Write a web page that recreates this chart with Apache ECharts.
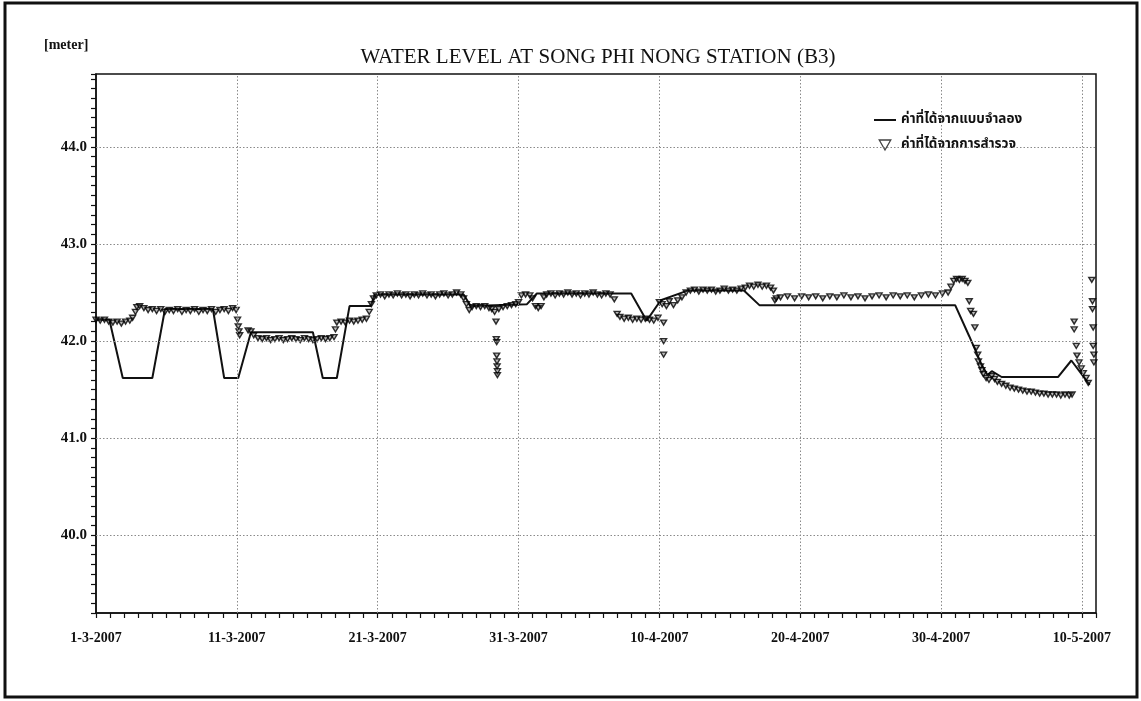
<!DOCTYPE html>
<html>
<head>
<meta charset="utf-8">
<script src="https://cdn.jsdelivr.net/npm/echarts@6/dist/echarts.min.js"></script>
<style>
  html, body { margin: 0; padding: 0; background: #fff; }
  #chart { width: 1141px; height: 701px; }
</style>
</head>
<body>
<div id="chart"></div>
<script>
// Water level, Song Phi Nong station (B3), 1 March - 10 May 2007.
// Time is counted in days from 1 March 2007 00:00.

const titleText = 'WATER LEVEL AT SONG PHI NONG STATION (B3)';
const unitText = '[meter]';
const modelName = 'ค่าที่ได้จากแบบจำลอง';
const surveyName = 'ค่าที่ได้จากการสำรวจ';

const startDate = [2007, 2, 1];
const dayGridTicks = [10, 20, 30, 40, 50, 60, 70];
const levelGridTicks = [40, 41, 42, 43, 44];

// Simulated water level [day, m]
const modelLevels = [
  [0.0, 42.22], [0.95, 42.22], [1.9, 41.62], [4.0, 41.62], [4.9, 42.33],
  [8.3, 42.33], [9.1, 41.62], [10.1, 41.62], [11.0, 42.09], [15.4, 42.09],
  [16.1, 41.62], [17.1, 41.62], [18.0, 42.36], [19.5, 42.36], [19.8, 42.48],
  [26.1, 42.48], [26.6, 42.36], [30.6, 42.38], [31.3, 42.49], [38.0, 42.49],
  [39.1, 42.21], [40.1, 42.42], [42.0, 42.52], [46.0, 42.52], [47.1, 42.37],
  [61.0, 42.37], [62.0, 42.05], [62.9, 41.75], [63.3, 41.65], [63.6, 41.69],
  [64.3, 41.63], [68.3, 41.63], [69.25, 41.80], [70.55, 41.55]
];

// Surveyed water level [day, m]
const surveyMarch = [
  [0.0, 42.22], [0.3, 42.21], [0.6, 42.22], [0.9, 42.20], [1.2, 42.19], [1.5, 42.20],
  [1.8, 42.18], [2.1, 42.20], [2.4, 42.21], [2.6, 42.24], [2.8, 42.30], [2.9, 42.35],
  [3.1, 42.36], [3.4, 42.34], [3.7, 42.32], [4.0, 42.33], [4.3, 42.31], [4.6, 42.33],
  [4.9, 42.30], [5.2, 42.32], [5.5, 42.31], [5.8, 42.33], [6.1, 42.30], [6.4, 42.32],
  [6.7, 42.31], [7.0, 42.33], [7.3, 42.30], [7.6, 42.32], [7.9, 42.31], [8.2, 42.33],
  [8.5, 42.30], [8.8, 42.32], [9.1, 42.33], [9.4, 42.31], [9.7, 42.34], [9.95, 42.32],
  [10.05, 42.22], [10.1, 42.15], [10.15, 42.10], [10.2, 42.06],
  [10.8, 42.11], [11.0, 42.10], [11.2, 42.06], [11.5, 42.03], [11.8, 42.02], [12.1, 42.03],
  [12.4, 42.01], [12.7, 42.02], [13.0, 42.03], [13.3, 42.01], [13.6, 42.02], [13.9, 42.03],
  [14.2, 42.02], [14.5, 42.01], [14.8, 42.03], [15.1, 42.02], [15.4, 42.01], [15.7, 42.02],
  [16.0, 42.03], [16.3, 42.02], [16.6, 42.03], [16.9, 42.04],
  [17.0, 42.12], [17.1, 42.19], [17.4, 42.20], [17.7, 42.19], [18.0, 42.21], [18.3, 42.20],
  [18.6, 42.21], [18.9, 42.22], [19.2, 42.23], [19.4, 42.30], [19.55, 42.38], [19.7, 42.44],
  [19.9, 42.47], [20.2, 42.48], [20.5, 42.46], [20.8, 42.48], [21.1, 42.47], [21.4, 42.49],
  [21.7, 42.47], [22.0, 42.48], [22.3, 42.46], [22.6, 42.48], [22.9, 42.47], [23.2, 42.49],
  [23.5, 42.47], [23.8, 42.48], [24.1, 42.46], [24.4, 42.48], [24.7, 42.49], [25.0, 42.47],
  [25.3, 42.48], [25.6, 42.50], [25.9, 42.48], [26.1, 42.44], [26.3, 42.38], [26.5, 42.32],
  [26.7, 42.35], [27.0, 42.36], [27.3, 42.35], [27.6, 42.36], [27.9, 42.34], [28.1, 42.33],
  [28.3, 42.30], [28.4, 42.20], [28.42, 42.02], [28.45, 41.99], [28.45, 41.85], [28.47, 41.79],
  [28.48, 41.74], [28.5, 41.69], [28.5, 41.65],
  [28.6, 42.33], [28.9, 42.35], [29.2, 42.36], [29.5, 42.37], [29.8, 42.38], [30.0, 42.40],
  [30.2, 42.47], [30.5, 42.48], [30.8, 42.47]
];

const surveyApril = [
  [31.0, 42.44], [31.2, 42.36], [31.4, 42.34], [31.6, 42.36], [31.8, 42.45],
  [32.0, 42.48], [32.3, 42.49], [32.6, 42.47], [32.9, 42.49], [33.2, 42.48], [33.5, 42.50],
  [33.8, 42.48], [34.1, 42.49], [34.4, 42.47], [34.7, 42.49], [35.0, 42.48], [35.3, 42.50],
  [35.6, 42.48], [35.9, 42.47], [36.2, 42.49], [36.5, 42.48], [36.8, 42.43],
  [37.0, 42.28], [37.2, 42.25], [37.5, 42.23], [37.8, 42.24], [38.1, 42.22], [38.4, 42.23],
  [38.7, 42.22], [39.0, 42.23], [39.3, 42.22], [39.6, 42.21], [39.9, 42.24],
  [40.3, 42.19], [40.3, 42.00], [40.3, 41.86],
  [40.0, 42.40], [40.2, 42.38], [40.5, 42.36], [40.7, 42.41], [41.0, 42.37], [41.3, 42.42],
  [41.6, 42.45], [41.9, 42.50], [42.2, 42.52], [42.5, 42.53], [42.8, 42.51], [43.1, 42.53],
  [43.4, 42.52], [43.7, 42.53], [44.0, 42.51], [44.3, 42.52], [44.6, 42.54], [44.9, 42.52],
  [45.2, 42.53], [45.5, 42.52], [45.8, 42.54], [46.1, 42.55], [46.4, 42.57], [46.7, 42.56],
  [47.0, 42.58], [47.3, 42.56], [47.6, 42.57], [47.9, 42.55], [48.1, 42.52], [48.2, 42.42],
  [48.3, 42.44], [48.6, 42.45], [49.1, 42.46], [49.6, 42.44], [50.1, 42.46], [50.6, 42.45],
  [51.1, 42.46], [51.6, 42.44], [52.1, 42.46], [52.6, 42.45], [53.1, 42.47], [53.6, 42.45],
  [54.1, 42.46], [54.6, 42.44], [55.1, 42.46], [55.6, 42.47], [56.1, 42.45], [56.6, 42.47],
  [57.1, 42.46], [57.6, 42.47], [58.1, 42.45], [58.6, 42.47], [59.1, 42.48], [59.6, 42.47],
  [60.1, 42.49], [60.5, 42.50]
];

const surveyMay = [
  [60.7, 42.56], [60.9, 42.62], [61.1, 42.64], [61.3, 42.63], [61.5, 42.64], [61.7, 42.62],
  [61.9, 42.60], [62.0, 42.41], [62.1, 42.31], [62.3, 42.28], [62.4, 42.14], [62.5, 41.93],
  [62.6, 41.86], [62.65, 41.79], [62.8, 41.74], [62.9, 41.70], [63.0, 41.66], [63.2, 41.62],
  [63.4, 41.60], [63.6, 41.64], [63.8, 41.61], [64.0, 41.58], [64.3, 41.56], [64.6, 41.54],
  [64.9, 41.52], [65.2, 41.51], [65.5, 41.50], [65.8, 41.49], [66.1, 41.48], [66.4, 41.48],
  [66.7, 41.47], [67.0, 41.46], [67.3, 41.46], [67.6, 41.45], [67.9, 41.45], [68.2, 41.45],
  [68.5, 41.44], [68.8, 41.45], [69.1, 41.44], [69.3, 41.45],
  [69.45, 42.20], [69.45, 42.12], [69.6, 41.95], [69.65, 41.85], [69.8, 41.78], [69.95, 41.72],
  [70.1, 41.67], [70.3, 41.62], [70.45, 41.57],
  [70.7, 42.63], [70.75, 42.41], [70.75, 42.33], [70.8, 42.14], [70.8, 41.95], [70.85, 41.86],
  [70.85, 41.78]
];

const surveyLevels = surveyMarch.concat(surveyApril, surveyMay);

const serif = "'Liberation Serif', 'Times New Roman', serif";
const thaiFont = "'Noto Sans Thai', 'Loma', 'Garuda', 'Tlwg Typo', 'DejaVu Sans', 'Liberation Serif', sans-serif";

function dayLabel(day) {
  const d = new Date(startDate[0], startDate[1], startDate[2] + Math.round(day));
  return d.getDate() + '-' + (d.getMonth() + 1) + '-' + d.getFullYear();
}

const gridLines = dayGridTicks.map(v => ({ xAxis: v }))
  .concat(levelGridTicks.map(v => ({ yAxis: v })));

const triangleDown = 'path://M0,0 L10,0 L5,8.66 Z';

const chart = echarts.init(document.getElementById('chart'), null, { renderer: 'canvas' });

chart.setOption({
  animation: false,
  backgroundColor: '#ffffff',
  title: {
    text: titleText,
    left: 593,
    textAlign: 'center',
    top: 42,
    textStyle: { fontFamily: serif, fontSize: 21, fontWeight: 'normal', color: '#111' }
  },
  graphic: [
    {
      type: 'rect',
      shape: { x: 5, y: 3, width: 1132, height: 694 },
      style: { fill: 'none', stroke: '#111', lineWidth: 3 },
      silent: true
    },
    {
      type: 'text',
      left: 44,
      top: 38,
      style: { text: unitText, font: 'bold 14px ' + serif, fill: '#111' },
      silent: true
    }
  ],
  legend: {
    orient: 'vertical',
    left: 869,
    top: 108,
    itemGap: 11,
    itemWidth: 22,
    itemHeight: 10,
    textStyle: { fontFamily: thaiFont, fontSize: 13.5, fontWeight: 'bold', color: '#111' },
    data: [
      { name: modelName, icon: 'path://M0,0 L22,0 L22,2 L0,2 Z', itemStyle: { color: '#111' } },
      { name: surveyName, icon: triangleDown, itemStyle: { color: '#fff', borderColor: '#111', borderWidth: 1.3 } }
    ]
  },
  grid: {
    left: 96,
    right: 45,
    top: 74,
    bottom: 88,
    show: true,
    borderColor: '#111',
    borderWidth: 1.5,
    backgroundColor: 'transparent'
  },
  xAxis: {
    type: 'value',
    min: 0,
    max: 71,
    interval: 1,
    axisLine: { show: true, lineStyle: { color: '#111', width: 1.5 } },
    axisTick: { show: true, length: 5, lineStyle: { color: '#111', width: 1.2 } },
    axisLabel: {
      margin: 18,
      fontFamily: serif,
      fontSize: 14,
      fontWeight: 'bold',
      color: '#111',
      formatter: v => (Math.abs(v % 10) < 1e-6 ? dayLabel(v) : '')
    },
    splitLine: { show: false }
  },
  yAxis: {
    type: 'value',
    min: 39.2,
    max: 44.75,
    interval: 0.1,
    axisLine: { show: true, lineStyle: { color: '#111', width: 1.5 } },
    axisTick: { show: true, length: 5, lineStyle: { color: '#111', width: 1.2 } },
    axisLabel: {
      margin: 9,
      fontFamily: serif,
      fontSize: 15,
      fontWeight: 'bold',
      color: '#111',
      formatter: v => (Math.abs(v - Math.round(v)) < 1e-6 ? v.toFixed(1) : '')
    },
    splitLine: { show: false }
  },
  series: [
    {
      name: modelName,
      type: 'line',
      data: modelLevels,
      symbol: 'none',
      lineStyle: { color: '#111', width: 2 },
      itemStyle: { color: '#111' },
      z: 3,
      markLine: {
        silent: true,
        symbol: 'none',
        label: { show: false },
        lineStyle: { color: '#8a8a8a', width: 1, type: [1.5, 2] },
        data: gridLines
      }
    },
    {
      name: surveyName,
      type: 'scatter',
      data: surveyLevels,
      symbol: triangleDown,
      symbolSize: [6, 5],
      itemStyle: { color: 'rgba(60,60,60,0.45)', borderColor: '#000', borderWidth: 1.4 },
      z: 4
    }
  ]
});
</script>
</body>
</html>
